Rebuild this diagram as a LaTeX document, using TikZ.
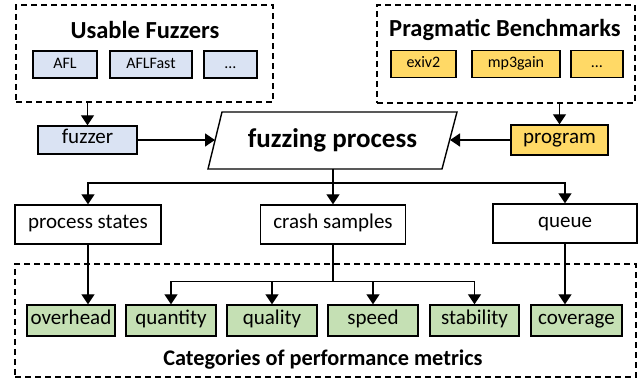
\documentclass[tikz,border=0pt]{standalone}
\usepackage{fontspec}
\setmainfont{Carlito}
\usetikzlibrary{arrows.meta}
\definecolor{fblue}{HTML}{DAE3F3}
\definecolor{fyellow}{HTML}{FFD966}
\definecolor{fgreen}{HTML}{C5E0B4}
\begin{document}
\begin{tikzpicture}[x=1pt,y=-1pt,
  box/.style={draw=black,line width=1.4pt,inner sep=0pt,anchor=center,text height=0.9em,text depth=0.16em},
  small/.style={box,minimum height=27pt,font=\fontsize{16}{18}\selectfont},
  mid/.style={box,minimum height=29pt,font=\fontsize{21}{24}\selectfont},
  dbox/.style={draw=black,line width=1.4pt,dash pattern=on 6pt off 4pt,inner sep=0pt},
  ttl/.style={font=\fontsize{24.5}{28}\bfseries\selectfont,inner sep=0pt},
  arr/.style={line width=1.4pt,-{Triangle[length=10pt,width=13pt]}},
  ln/.style={line width=1.4pt}]
\useasboundingbox (0,0) rectangle (641,379);
% top dashed groups
\node[dbox,minimum width=257pt,minimum height=97pt] (uf) at (144.5,53.5) {};
\node[ttl] (uft) at (145,30) {Usable Fuzzers};
\node[small,fill=fblue,minimum width=64pt] (afl) at (65,64.5) {AFL};
\node[small,fill=fblue,minimum width=82pt] (aflf) at (151,64.5) {AFLFast};
\node[small,fill=fblue,minimum width=53pt] (fdots) at (230.5,64.5) {\dots};
\node[dbox,minimum width=258pt,minimum height=98pt] (pb) at (506,54) {};
\node[ttl] (pbt) at (505,30) {Pragmatic Benchmarks};
\node[small,fill=fyellow,minimum width=65pt] (exiv) at (423.5,64) {exiv2};
\node[small,fill=fyellow,minimum width=88pt] (mp3) at (516,64) {mp3gain};
\node[small,fill=fyellow,minimum width=52pt] (pdots) at (597,64) {\dots};
% middle row
\node[mid,fill=fblue,minimum width=99pt,minimum height=28pt] (fuzzer) at (87.5,140) {fuzzer};
\node[mid,fill=fyellow,minimum width=97pt,minimum height=30pt] (prog) at (559.5,140) {program};
\coordinate (fpTL) at (222,112);
\coordinate (fpTR) at (457,112);
\coordinate (fpBR) at (442,169);
\coordinate (fpBL) at (208,169);
\draw[line width=1.4pt,line join=miter] (fpTL) -- (fpTR) -- (fpBR) -- (fpBL) -- cycle;
\node[font=\fontsize{27}{30}\bfseries\selectfont,inner sep=0pt] (fp) at (332.5,140.5) {fuzzing process};
\coordinate (fpW) at (215,140);
\coordinate (fpE) at (450,140);
\coordinate (fpS) at (333,169);
\draw[arr] (uf.south -| fuzzer.north) -- (fuzzer.north);
\draw[arr] (pb.south -| prog.north) -- (prog.north);
\draw[arr] (fuzzer.east) -- (fpW);
\draw[arr] (prog.west) -- (fpE);
% data row
\node[mid,minimum width=146pt,minimum height=39pt] (ps) at (88,224.5) {process states};
\node[mid,minimum width=145pt,minimum height=39pt] (cs) at (333,224.5) {crash samples};
\node[mid,minimum width=144pt,minimum height=39pt] (qu) at (565,223.5) {queue};
\draw[arr] (fpS) -- ++(0,14) -| (ps.north);
\draw[arr] (fpS) -- (cs.north);
\draw[arr] (fpS) -- ++(0,14) -| (qu.north);
% metrics
\node[dbox,minimum width=621pt,minimum height=113pt] (cat) at (325.5,320.5) {};
\node[ttl,font=\fontsize{22.3}{26}\bfseries\selectfont] (catt) at (323,360) {Categories of performance metrics};
\node[mid,fill=fgreen,minimum width=88pt,minimum height=31pt] (ov) at (71,320.5) {overhead};
\node[mid,fill=fgreen,minimum width=90pt,minimum height=31pt] (qn) at (171,320.5) {quantity};
\node[mid,fill=fgreen,minimum width=90pt,minimum height=31pt] (ql) at (272,320.5) {quality};
\node[mid,fill=fgreen,minimum width=90pt,minimum height=31pt] (sp) at (373,320.5) {speed};
\node[mid,fill=fgreen,minimum width=89pt,minimum height=31pt] (st) at (474.5,320.5) {stability};
\node[mid,fill=fgreen,minimum width=91pt,minimum height=31pt] (cv) at (576.5,320.5) {coverage};
\draw[arr] (ps.south) -- (ps.south |- ov.north);
\draw[arr] (qu.south) -- (qu.south |- cv.north);
\draw[ln] (cs.south) -- ++(0,37) coordinate (bus);
\draw[arr] (bus) -| (qn.north);
\draw[arr] (bus) -| (ql.north);
\draw[arr] (bus) -| (sp.north);
\draw[arr] (bus) -| (st.north);
\end{tikzpicture}
\end{document}
